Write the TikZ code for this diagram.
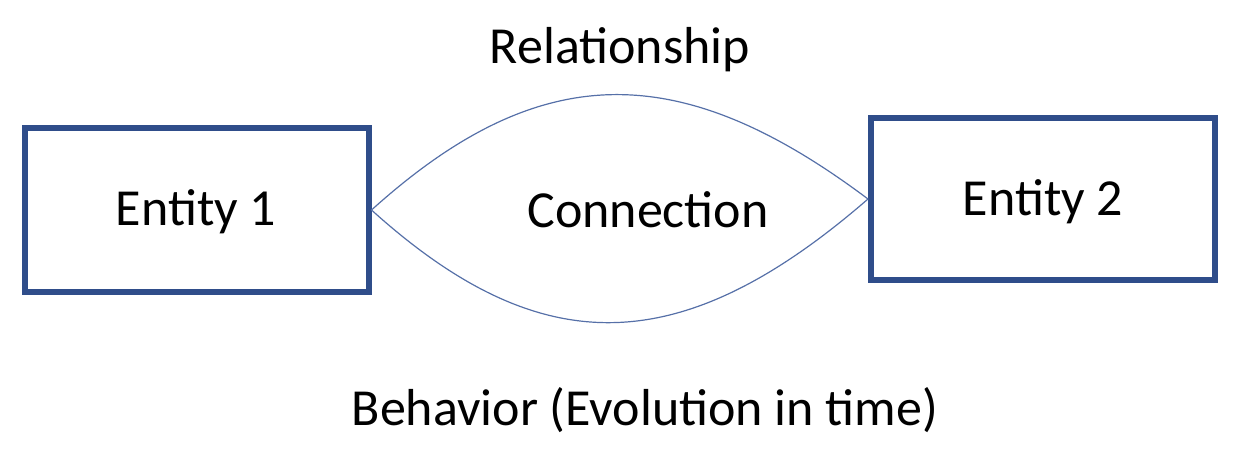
\documentclass[tikz,border=0pt]{standalone}
\usepackage{fontspec}
\setmainfont{Carlito}
\definecolor{boxblue}{HTML}{2F4D8A}
\definecolor{linkblue}{HTML}{5670A8}
\begin{document}
\begin{tikzpicture}[x=0.75pt,y=-0.75pt,
  ent/.style={draw=boxblue,line width=4.5pt,inner sep=0pt,minimum width=344*0.75pt},
  lbl/.style={font=\fontsize{39}{44}\selectfont,inner sep=0pt},
  link/.style={linkblue,line width=0.9pt}]
\useasboundingbox (0,0) rectangle (1239,454);
\node[ent,minimum height=164*0.75pt] (e1) at (196.5,210) {};
\node[ent,minimum height=162*0.75pt] (e2) at (1043,199) {};
\node[lbl] (t1) at (196,212) {Entity 1};
\node[lbl] (t2) at (1043,202) {Entity 2};
\node[lbl] (rel) at (620,50) {Relationship};
\node[lbl] (con) at (648,210) {Connection};
\node[lbl] (beh) at (645,410) {Behavior (Evolution in time)};
\draw[link] (e1.east) .. controls (540,58) and (680,58) .. (e2.west);
\draw[link] (e1.east) .. controls (540,362) and (680,362) .. (e2.west);
\end{tikzpicture}
\end{document}
